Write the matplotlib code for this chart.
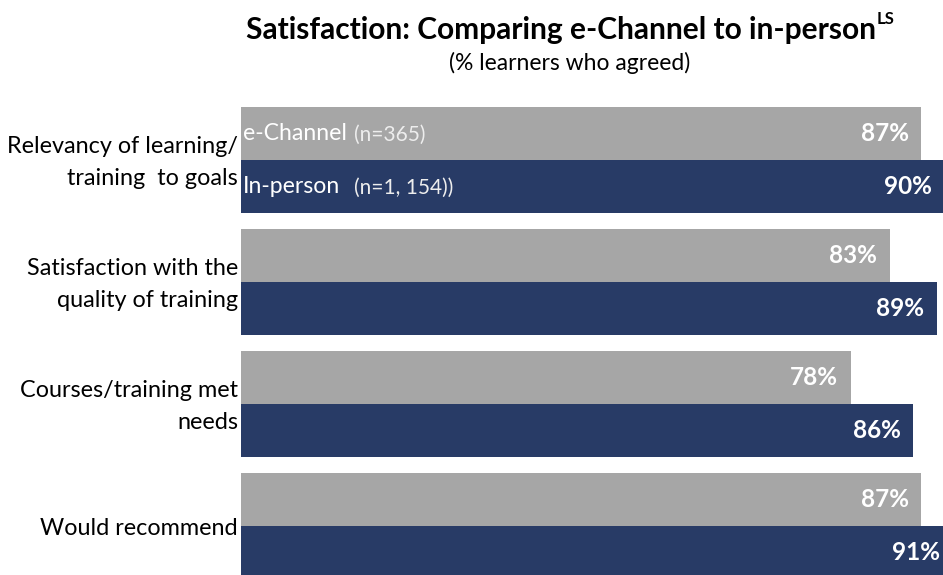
import matplotlib
matplotlib.use("Agg")
import matplotlib.pyplot as plt
import numpy as np

plt.rcParams['font.family'] = ['Lato', 'DejaVu Sans']

# data
categories = ["Relevancy of learning/\ntraining  to goals",
              "Satisfaction with the\nquality of training",
              "Courses/training met\nneeds",
              "Would recommend"]
echannel = [87, 83, 78, 87]
inperson = [90, 89, 86, 91]
series_names = ["e-Channel", "In-person"]
series_n = ["(n=365)", "(n=1, 154))"]
title = "Satisfaction: Comparing e-Channel to in-person"
title_sup = "LS"
subtitle = "(% learners who agreed)"

GRAY = "#A6A6A6"
NAVY = "#283B66"
W, H = 943, 575

fig = plt.figure(figsize=(W / 100, H / 100), dpi=100)
ax = fig.add_axes([241 / W, 0, 702 / W, 1])

y = np.arange(len(categories))
h = 0.434
ax.barh(y - h / 2, echannel, height=h, color=GRAY)
ax.barh(y + h / 2, inperson, height=h, color=NAVY)
ax.set_xlim(0, 89.8)
ax.set_ylim(3.402, -1.311)
ax.axis('off')

# value labels inside bar ends
for vals, off in ((echannel, -h / 2), (inperson, h / 2)):
    for i, v in enumerate(vals):
        ax.annotate(f"{v}%", xy=(v, i + off), xytext=(-9, 0),
                    textcoords='offset points', ha='right', va='center',
                    color='white', fontsize=17.5, fontweight='bold',
                    annotation_clip=False)

# category labels
for i, c in enumerate(categories):
    ax.text(-3 / 702, i + 0.02, c, transform=ax.get_yaxis_transform(),
            ha='right', va='center', multialignment='right',
            fontsize=16.8, linespacing=1.65, color='black')

# in-bar legend
fig.canvas.draw()
rend = fig.canvas.get_renderer()
for k, (name, n) in enumerate(zip(series_names, series_n)):
    yy = -h / 2 if k == 0 else h / 2
    t = ax.annotate(name, xy=(0, yy), xytext=(1.5, 0), textcoords='offset points',
                    ha='left', va='center', color='white', fontsize=16.6)
    bb = t.get_window_extent(rend)
    gap = 7 if k == 0 else 14
    ax.annotate(n, xy=(0, yy), xytext=((bb.x1 - ax.bbox.x0 + gap) * 72 / 100, -1),
                textcoords='offset points', ha='left', va='center',
                color='#EDEDED', fontsize=15)

# title with superscript
tt = fig.text(561 / W, 1 - 30 / H, title, ha='center', va='center',
              fontsize=21.5, fontweight='bold')
bb = tt.get_window_extent(rend)
fig.text((bb.x1 + 1) / W, 1 - 19 / H, title_sup, ha='left', va='center',
         fontsize=12, fontweight='bold')
fig.text(570 / W, 1 - 63 / H, subtitle, ha='center', va='center', fontsize=16.5)

fig.savefig("out.png", dpi=100)
